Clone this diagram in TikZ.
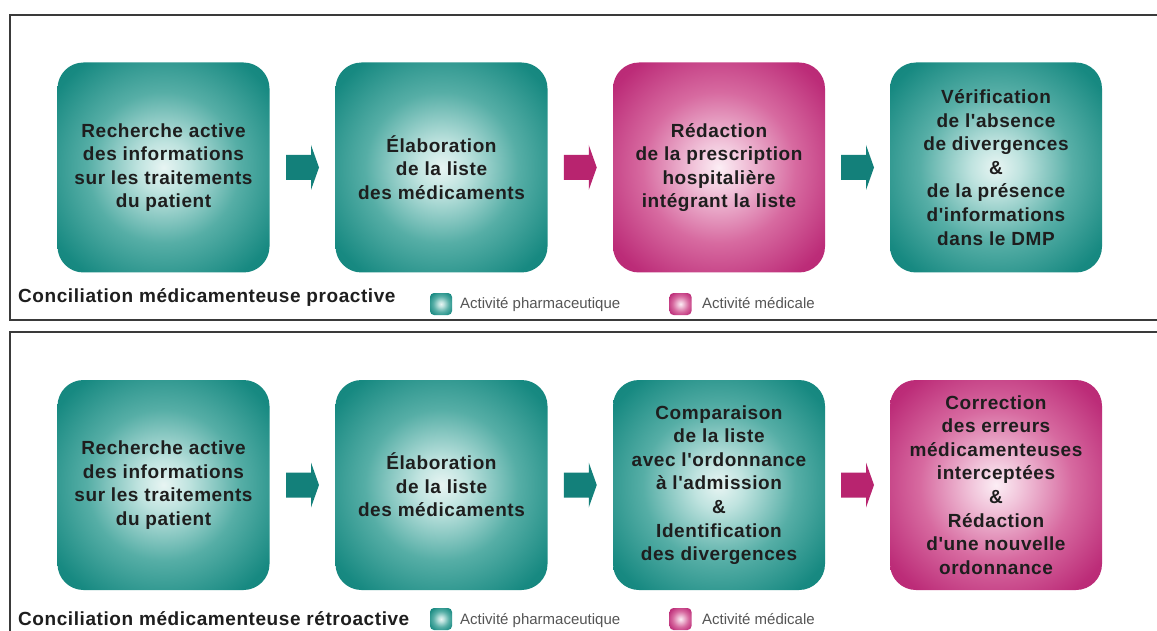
\documentclass[tikz,border=0pt]{standalone}
\usepackage{fontspec}
\setmainfont{Liberation Sans}[Ligatures=TeXOff]
\newfontfamily\widefont{Liberation Sans}[Ligatures=TeXOff, LetterSpace=3]
\usetikzlibrary{calc}

\definecolor{tealA}{HTML}{E8F5F3}
\definecolor{tealB}{HTML}{BFE3DF}
\definecolor{tealC}{HTML}{56AEA6}
\definecolor{tealD}{HTML}{178981}
\definecolor{tealE}{HTML}{0F7E76}
\definecolor{tealF}{HTML}{0B6E68}
\definecolor{magA}{HTML}{FCEEF5}
\definecolor{magB}{HTML}{F1C4DA}
\definecolor{magC}{HTML}{D76AA0}
\definecolor{magD}{HTML}{BC2C78}
\definecolor{magE}{HTML}{B0206C}
\definecolor{magF}{HTML}{9C185F}
\definecolor{arrteal}{HTML}{13807A}
\definecolor{arrmag}{HTML}{B8246F}
\definecolor{frameline}{HTML}{3A3A3A}
\definecolor{txt}{HTML}{1E1E1E}
\definecolor{legtxt}{HTML}{555555}

\pgfdeclareradialshading{tealpillow}{\pgfpoint{0bp}{0bp}}{color(0bp)=(tealA); color(6bp)=(tealB); color(18bp)=(tealC); color(31bp)=(tealD); color(45bp)=(tealE); color(52bp)=(tealF)}
\pgfdeclareradialshading{magpillow}{\pgfpoint{0bp}{0bp}}{color(0bp)=(magA); color(6bp)=(magB); color(18bp)=(magC); color(31bp)=(magD); color(45bp)=(magE); color(52bp)=(magF)}

\newcommand\boxfont{\widefont\fontsize{19}{23.6}\selectfont\bfseries}
\newcommand\labfont{\widefont\fontsize{19}{22}\selectfont\bfseries}
\newcommand\legfont{\fontsize{15}{17}\selectfont}

\tikzset{
  stagebox/.style={rounded corners=26pt, minimum width=212pt, minimum height=210pt,
    align=center, font=\boxfont, text=txt, inner sep=0pt},
  pharma/.style={stagebox, shading=tealpillow},
  medic/.style={stagebox, shading=magpillow},
  legicon/.style={rounded corners=4pt, minimum width=22pt, minimum height=22pt, inner sep=0pt},
  legpharma/.style={legicon, shading=tealpillow},
  legmedic/.style={legicon, shading=magpillow},
  legtext/.style={anchor=base west, font=\legfont, text=legtxt, inner sep=0pt},
  rowlabel/.style={anchor=base west, font=\labfont, text=txt, inner sep=0pt},
  frame/.style={draw=frameline, line width=2.2pt},
  blockarrow/.pic={\fill[pic actions] (-16.5,-12.5) -- (8.5,-12.5) -- (8.5,-22.5) -- (16.5,0) -- (8.5,22.5) -- (8.5,12.5) -- (-16.5,12.5) -- cycle;}
}

\begin{document}
\begin{tikzpicture}[x=1pt,y=-1pt]
\useasboundingbox[fill=white] (0,0) rectangle (1157,631);

% frames
\draw[frame] (1160,15) -- (10,15) -- (10,320) -- (1160,320);
\draw[frame] (1160,332) -- (10,332) -- (10,635);

% top row
\node[pharma] (p1) at (163.5,167.5) {Recherche active\\des informations\\sur les traitements\\du patient};
\node[pharma] (p2) at (441.5,167.5) {Élaboration\\de la liste\\des médicaments};
\node[medic]  (p3) at (719,167.5) {Rédaction\\de la prescription\\hospitalière\\intégrant la liste};
\node[pharma] (p4) at (996,167.5) {Vérification\\de l'absence\\de divergences\\\&\\de la présence\\d'informations\\dans le DMP};

\path (p1.east) -- (p2.west) coordinate[pos=0.5] (pa1);
\path (p2.east) -- (p3.west) coordinate[pos=0.5] (pa2);
\path (p3.east) -- (p4.west) coordinate[pos=0.5] (pa3);
\pic[fill=arrteal] at (pa1) {blockarrow};
\pic[fill=arrmag]  at (pa2) {blockarrow};
\pic[fill=arrteal] at (pa3) {blockarrow};

\node[rowlabel] (lab1) at (18,302) {Conciliation médicamenteuse proactive};
\node[legpharma] (i1) at (441,304) {};
\node[legtext] (t1) at (460,308) {Activité pharmaceutique};
\node[legmedic] (i2) at (680.5,304) {};
\node[legtext] (t2) at (702,308) {Activité médicale};

% bottom row
\node[pharma] (q1) at (163.5,485) {Recherche active\\des informations\\sur les traitements\\du patient};
\node[pharma] (q2) at (441.5,485) {Élaboration\\de la liste\\des médicaments};
\node[pharma] (q3) at (719,485) {Comparaison\\de la liste\\avec l'ordonnance\\à l'admission\\\&\\Identification\\des divergences};
\node[medic]  (q4) at (996,485) {Correction\\des erreurs\\médicamenteuses\\interceptées\\\&\\Rédaction\\d'une nouvelle\\ordonnance};

\path (q1.east) -- (q2.west) coordinate[pos=0.5] (qa1);
\path (q2.east) -- (q3.west) coordinate[pos=0.5] (qa2);
\path (q3.east) -- (q4.west) coordinate[pos=0.5] (qa3);
\pic[fill=arrteal] at (qa1) {blockarrow};
\pic[fill=arrteal] at (qa2) {blockarrow};
\pic[fill=arrmag]  at (qa3) {blockarrow};

\node[rowlabel] (lab2) at (18,625) {Conciliation médicamenteuse rétroactive};
\node[legpharma] (i3) at (441,619) {};
\node[legtext] (t3) at (460,624) {Activité pharmaceutique};
\node[legmedic] (i4) at (680.5,619) {};
\node[legtext] (t4) at (702,624) {Activité médicale};
\end{tikzpicture}
\end{document}
